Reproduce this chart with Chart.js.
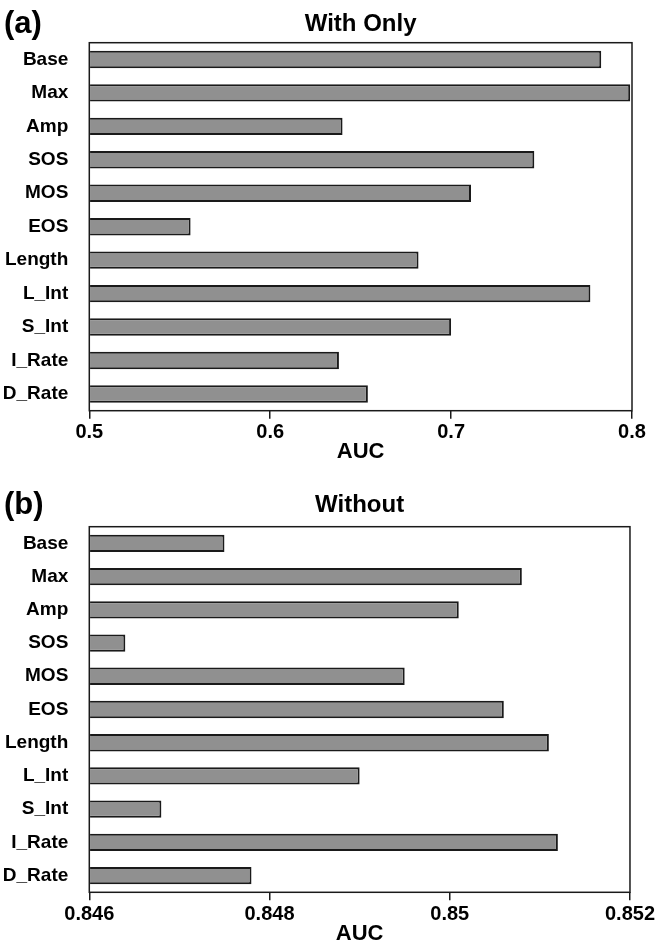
<!DOCTYPE html>
<html>
<head>
<meta charset="utf-8">
<script src="https://cdn.jsdelivr.net/npm/chart.js@4.4.1/dist/chart.umd.min.js"></script>
<style>
  html, body { margin: 0; padding: 0; background: #fff; overflow: hidden; }
  #wrap { position: relative; width: 657px; height: 947px; }
  canvas { position: absolute; left: 0; display: block; }
</style>
</head>
<body>
<div id="wrap">
  <canvas id="chartA" width="657" height="470" style="top:0px"></canvas>
  <canvas id="chartB" width="657" height="477" style="top:470px"></canvas>
</div>
<script>
// data
const categories = ['Base', 'Max', 'Amp', 'SOS', 'MOS', 'EOS', 'Length', 'L_Int', 'S_Int', 'I_Rate', 'D_Rate'];
const withOnlyAUC = [0.783, 0.799, 0.640, 0.746, 0.711, 0.556, 0.682, 0.777, 0.700, 0.638, 0.654];
const withoutAUC = [0.8475, 0.8508, 0.8501, 0.8464, 0.8495, 0.8506, 0.8511, 0.8490, 0.8468, 0.8512, 0.8478];
const withOnlyTicks = [0.5, 0.6, 0.7, 0.8];
const withoutTicks = [0.846, 0.848, 0.85, 0.852];

const FONT = '"Liberation Sans", Arial, Helvetica, sans-serif';

// box around the plot area
const framePlugin = {
  id: 'frame',
  afterDatasetsDraw(chart) {
    const { ctx, chartArea: a } = chart;
    ctx.save();
    ctx.strokeStyle = '#1a1a1a';
    ctx.lineWidth = 1.5;
    ctx.strokeRect(a.left, a.top, a.right - a.left, a.bottom - a.top);
    ctx.restore();
  }
};

// "(a)" / "(b)" panel letter
const letterPlugin = {
  id: 'panelLetter',
  afterDraw(chart, args, opts) {
    const ctx = chart.ctx;
    ctx.save();
    ctx.font = 'bold 31px ' + FONT;
    ctx.fillStyle = '#000';
    ctx.textBaseline = 'middle';
    ctx.textAlign = 'left';
    ctx.fillText(opts.text, 4, opts.y);
    ctx.restore();
  }
};

function makeChart(id, values, ticks, title, letter, g) {
  const ctx = document.getElementById(id).getContext('2d');
  return new Chart(ctx, {
    type: 'bar',
    data: {
      labels: categories,
      datasets: [{
        data: values,
        base: ticks[0],
        backgroundColor: '#909090',
        borderColor: '#1a1a1a',
        borderWidth: 2,
        categoryPercentage: 0.52,
        barPercentage: 1.0
      }]
    },
    options: {
      indexAxis: 'y',
      responsive: false,
      animation: false,
      layout: { padding: { left: 0, right: 25, top: 0, bottom: 0 } },
      plugins: {
        legend: { display: false },
        tooltip: { enabled: false },
        title: {
          display: true,
          text: title,
          fullSize: false,
          color: '#000',
          font: { family: FONT, size: 24, weight: 'bold' },
          padding: { top: g.titleY - 14.4, bottom: g.top - g.titleY - 14.4 }
        },
        panelLetter: { text: letter, y: g.titleY }
      },
      scales: {
        x: {
          type: 'linear',
          min: ticks[0],
          max: ticks[ticks.length - 1],
          afterBuildTicks: s => { s.ticks = ticks.map(v => ({ value: v })); },
          afterFit: s => { s.height = g.height - g.bottom; },
          ticks: {
            color: '#000',
            padding: 2,
            maxRotation: 0,
            autoSkip: false,
            font: { family: FONT, size: 20, weight: 'bold' },
            callback: v => String(v)
          },
          grid: { display: true, drawOnChartArea: false, drawTicks: true, tickLength: 8, color: '#1a1a1a', lineWidth: 1.5 },
          border: { display: false },
          title: {
            display: true,
            text: 'AUC',
            color: '#000',
            font: { family: FONT, size: 22, weight: 'bold' },
            padding: { top: 0, bottom: g.height - g.aucY - 13.2 }
          }
        },
        y: {
          type: 'category',
          afterFit: s => { s.width = 89.3; },
          grid: { display: false },
          border: { display: false },
          ticks: {
            color: '#000',
            padding: 13,
            font: { family: FONT, size: 19, weight: 'bold' }
          }
        }
      }
    },
    plugins: [framePlugin, letterPlugin]
  });
}

makeChart('chartA', withOnlyAUC, withOnlyTicks, 'With Only', '(a)',
  { height: 470, titleY: 24, top: 42.7, bottom: 410.7, aucY: 452 });
makeChart('chartB', withoutAUC, withoutTicks, 'Without', '(b)',
  { height: 477, titleY: 35, top: 56.7, bottom: 422.3, aucY: 464 });
</script>
</body>
</html>
